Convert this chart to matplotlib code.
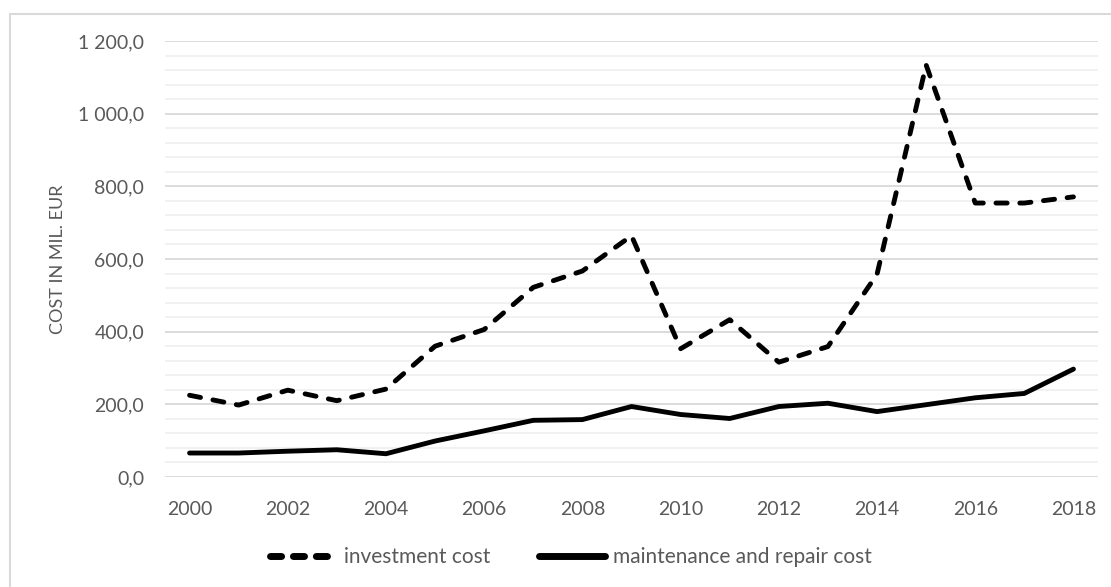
import matplotlib.pyplot as plt
from matplotlib.patches import Rectangle
from matplotlib.ticker import FuncFormatter, MultipleLocator

years = list(range(2000, 2019))
investment = [225, 198, 239, 210, 242, 360, 406, 522, 567, 664,
              353, 433, 316, 359, 558, 1134, 754, 754, 771]
maintenance = [66, 66, 71, 75, 64, 99, 127, 156, 158, 194,
               172, 161, 194, 203, 180, 199, 218, 230, 297]
series_names = ["investment cost", "maintenance and repair cost"]
ylabel = "COST IN MIL. EUR"

text_color = "#595959"


def euro_fmt(v, pos):
    return f"{v:,.1f}".replace(",", " ").replace(".", ",")


def main():
    plt.rcParams['font.family'] = ['Lato', 'DejaVu Sans']

    fig = plt.figure(figsize=(11.11, 5.87), dpi=100)
    ax = fig.add_axes([165 / 1111, 110 / 587, 933 / 1111, 436 / 587])

    # outer chart border (cut at right and bottom like the source)
    fig.patches.append(Rectangle((10 / 1111, -0.05), 1.2, 0.05 + (587 - 14) / 587,
                                 transform=fig.transFigure, fill=False,
                                 edgecolor="#d9d9d9", linewidth=1.5))

    ax.plot(years, investment, color="black", linewidth=3.5,
            dashes=(2.3, 2.6), dash_capstyle="round",
            solid_joinstyle="round", label=series_names[0], zorder=3)
    ax.plot(years, maintenance, color="black", linewidth=3.5,
            solid_capstyle="round", solid_joinstyle="round",
            label=series_names[1], zorder=3)

    ax.set_xlim(1999.5, 2018.5)
    ax.set_ylim(0, 1200)
    ax.set_xticks(range(2000, 2019, 2))
    ax.yaxis.set_major_locator(MultipleLocator(200))
    ax.yaxis.set_minor_locator(MultipleLocator(40))
    ax.yaxis.set_major_formatter(FuncFormatter(euro_fmt))

    ax.grid(axis="y", which="major", color="#d9d9d9", linewidth=1.3, zorder=0)
    ax.grid(axis="y", which="minor", color="#f0f0f0", linewidth=1.3, zorder=0)
    ax.set_axisbelow(True)
    for s in ax.spines.values():
        s.set_visible(False)

    ax.tick_params(axis="both", which="both", length=0, labelsize=14,
                   labelcolor=text_color)
    ax.tick_params(axis="x", pad=17)
    ax.tick_params(axis="y", pad=15)

    fig.text(58 / 1111, 1 - 259 / 587, ylabel, rotation=90, ha="center",
             va="center", fontsize=13, color=text_color)

    leg = fig.legend(loc="center", bbox_to_anchor=(571 / 1111, 1 - 557 / 587),
                     ncol=2, frameon=False, fontsize=15, handlelength=3.2,
                     handletextpad=0.35, columnspacing=2.3)
    for t in leg.get_texts():
        t.set_color(text_color)
    # legend keys are drawn heavier, with short dashes
    hl = leg.get_lines()
    for ln in hl:
        ln.set_linewidth(5)
        ln.set_solid_capstyle("round")
    hl[0].set_dashes((1.6, 1.7))
    hl[0].set_dash_capstyle("round")

    fig.savefig("out.png", dpi=100)


if __name__ == '__main__':
    main()
